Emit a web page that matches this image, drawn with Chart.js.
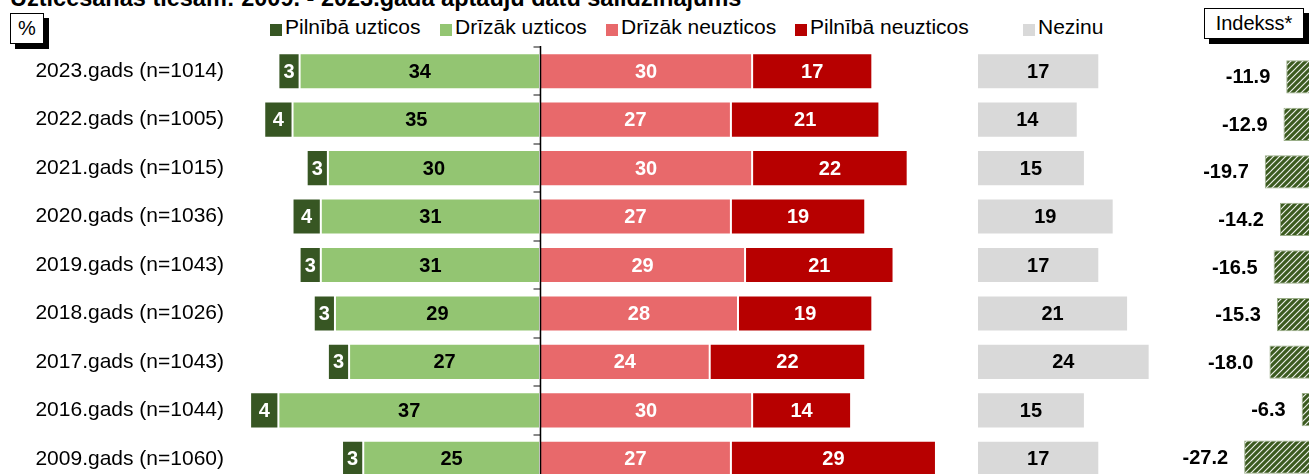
<!DOCTYPE html>
<html><head><meta charset="utf-8">
<script src="https://cdn.jsdelivr.net/npm/chart.js@4.4.1/dist/chart.umd.min.js"></script>
<style>
html,body{margin:0;padding:0;background:#fff;}
body{width:1309px;height:474px;overflow:hidden;position:relative;font-family:"Liberation Sans",Arial,sans-serif;color:#000;}
canvas{position:absolute;top:0;}
#title{position:absolute;left:10px;top:-13px;font-weight:bold;font-size:23.5px;line-height:23.5px;white-space:nowrap;}
.box{position:absolute;border:1px solid #000;box-shadow:5px 5px 0 #000;background:#fff;font-size:20px;display:flex;align-items:center;justify-content:center;box-sizing:border-box;}
.leg{position:absolute;font-size:21px;line-height:20px;white-space:nowrap;top:17px;}
.sq{position:absolute;width:12px;height:12px;top:24px;}
</style></head>
<body>
<div id="title">Uzticēšanās tiesām: 2009. - 2023.gada aptauju datu salīdzinājums</div>
<div class="box" style="left:10px;top:13px;width:34px;height:31px;">%</div>
<div class="box" style="left:1204px;top:8px;width:100px;height:31px;">Indekss*</div>
<div id="legend"></div>
<canvas id="main" width="960" height="483" style="left:0"></canvas>
<canvas id="nez" width="200" height="483" style="left:977px"></canvas>
<canvas id="idx" width="219" height="481" style="left:1100px"></canvas>
<script>
const categories = ['2023.gads (n=1014)','2022.gads (n=1005)','2021.gads (n=1015)','2020.gads (n=1036)','2019.gads (n=1043)','2018.gads (n=1026)','2017.gads (n=1043)','2016.gads (n=1044)','2009.gads (n=1060)'];
const seriesNames = ['Pilnībā uzticos','Drīzāk uzticos','Drīzāk neuzticos','Pilnībā neuzticos','Nezinu'];
const fullyTrust     = [3,4,3,4,3,3,3,4,3];
const ratherTrust    = [34,35,30,31,31,29,27,37,25];
const ratherDistrust = [30,27,30,27,29,28,24,30,27];
const fullyDistrust  = [17,21,22,19,21,19,22,14,29];
const dontKnow       = [17,14,15,19,17,21,24,15,17];
const indexValues    = [-11.9,-12.9,-19.7,-14.2,-16.5,-15.3,-18.0,-6.3,-27.2];

const FONT = '"Liberation Sans", Arial, sans-serif';
const colors = ['#375623','#93c572','#e8696b','#b70000','#d9d9d9'];
const legendX = [285,455,621,810,1038];

// legend (HTML)
const legendEl = document.getElementById('legend');
seriesNames.forEach((name,i)=>{
  const sq = document.createElement('div'); sq.className='sq';
  sq.style.left = (legendX[i]-15)+'px'; sq.style.background = colors[i];
  const t = document.createElement('div'); t.className='leg';
  t.style.left = legendX[i]+'px'; t.textContent = name;
  legendEl.appendChild(sq); legendEl.appendChild(t);
});

const valueLabels = {
  id: 'valueLabels',
  afterDatasetsDraw(chart, args, opts) {
    const ctx = chart.ctx;
    ctx.save();
    ctx.font = 'bold 20px ' + FONT;
    ctx.textBaseline = 'middle';
    chart.data.datasets.forEach((ds, di) => {
      const meta = chart.getDatasetMeta(di);
      meta.data.forEach((el, i) => {
        const v = ds.data[i];
        ctx.fillStyle = ds.labelColor;
        if (ds.outsideLabel) {
          const left = Math.min(el.x, el.base);
          ctx.textAlign = 'right';
          ctx.fillText(v.toFixed(1), left - (opts.gap || 16), el.y + 1);
        } else {
          const c = el.getCenterPoint();
          ctx.textAlign = 'center';
          ctx.fillText(String(Math.abs(v)), c.x, c.y + 1);
        }
      });
    });
    ctx.restore();
  }
};

// zero line with category-boundary tick marks, positioned via the chart's scales
const centerAxis = {
  id: 'centerAxis',
  afterDatasetsDraw(chart) {
    const ctx = chart.ctx;
    const xs = chart.scales.x, ys = chart.scales.y;
    const x0 = Math.round(xs.getPixelForValue(0)) + 0.5;
    const {top, bottom} = chart.chartArea;
    ctx.save();
    ctx.strokeStyle = '#888'; ctx.lineWidth = 2;
    for (let i = 0; i <= chart.data.labels.length; i++) {
      const yb = Math.round(ys.getPixelForValue(i - 0.5));
      ctx.beginPath(); ctx.moveTo(x0 - 7, yb); ctx.lineTo(x0, yb); ctx.stroke();
    }
    ctx.strokeStyle = '#000'; ctx.lineWidth = 1.5;
    ctx.beginPath(); ctx.moveTo(x0, top - 1); ctx.lineTo(x0, bottom); ctx.stroke();
    ctx.restore();
  }
};

const common = {
  indexAxis: 'y', responsive: false, animation: false,
  plugins: { legend: {display:false}, tooltip: {enabled:false} }
};

new Chart(document.getElementById('main'), {
  type: 'bar',
  data: { labels: categories, datasets: [
    {label: seriesNames[1], data: ratherTrust.map(v=>-v), backgroundColor: colors[1], labelColor:'#000'},
    {label: seriesNames[0], data: fullyTrust.map(v=>-v), backgroundColor: colors[0], labelColor:'#fff'},
    {label: seriesNames[2], data: ratherDistrust, backgroundColor: colors[2], labelColor:'#fff'},
    {label: seriesNames[3], data: fullyDistrust, backgroundColor: colors[3], labelColor:'#fff'}
  ]},
  options: Object.assign({}, common, {
    layout: {padding: {top: 47, left: 0, right: 0, bottom: 0}},
    datasets: {bar: {categoryPercentage: 1, barPercentage: 0.745, borderWidth: 1, borderColor: 'rgba(255,255,255,0.45)', borderSkipped: false}},
    scales: {
      x: {display: false, stacked: true, min: -42.43, max: 59.4},
      y: {stacked: true, grid: {display: false, drawTicks: true, tickLength: 16}, border: {display: false},
          ticks: {color: '#000', font: {size: 21, family: FONT}, padding: 0},
          afterFit(s){ s.width = 240; s.paddingTop = 0; s.paddingBottom = 0; s.paddingLeft = 0; s.paddingRight = 0; }}
    }
  }),
  plugins: [valueLabels, centerAxis]
});

new Chart(document.getElementById('nez'), {
  type: 'bar',
  data: { labels: categories, datasets: [
    {label: seriesNames[4], data: dontKnow, backgroundColor: colors[4], labelColor: '#000'}
  ]},
  options: Object.assign({}, common, {
    layout: {padding: {top: 47, left: 0, right: 0, bottom: 0}},
    datasets: {bar: {categoryPercentage: 1, barPercentage: 0.745, borderWidth: 1, borderColor: 'rgba(255,255,255,0.45)', borderSkipped: false}},
    scales: {
      x: {display: false, min: 0, max: 27.8},
      y: {display: false}
    }
  }),
  plugins: [valueLabels]
});

function hatchPattern() {
  const c = document.createElement('canvas'); c.width = 6; c.height = 6;
  const g = c.getContext('2d');
  g.fillStyle = '#3b5a1f'; g.fillRect(0,0,6,6);
  g.strokeStyle = 'rgba(255,255,255,0.9)'; g.lineWidth = 1.2;
  g.beginPath();
  g.moveTo(0,6); g.lineTo(6,0);
  g.moveTo(-1,1); g.lineTo(1,-1);
  g.moveTo(5,7); g.lineTo(7,5);
  g.stroke();
  return document.getElementById('idx').getContext('2d').createPattern(c, 'repeat');
}

new Chart(document.getElementById('idx'), {
  type: 'bar',
  data: { labels: categories, datasets: [
    {label: 'Indekss*', data: indexValues, backgroundColor: hatchPattern(), borderColor: '#9aae88', borderWidth: 1, borderSkipped: false, labelColor: '#000', outsideLabel: true}
  ]},
  options: Object.assign({}, common, {
    layout: {padding: {top: 53, left: 0, right: 0, bottom: 0}},
    datasets: {bar: {categoryPercentage: 1, barPercentage: 0.70}},
    scales: {
      x: {display: false, min: -79.6, max: 0},
      y: {display: false}
    },
    plugins: { legend: {display:false}, tooltip: {enabled:false}, valueLabels: {gap: 16} }
  }),
  plugins: [valueLabels]
});
</script>
</body></html>
